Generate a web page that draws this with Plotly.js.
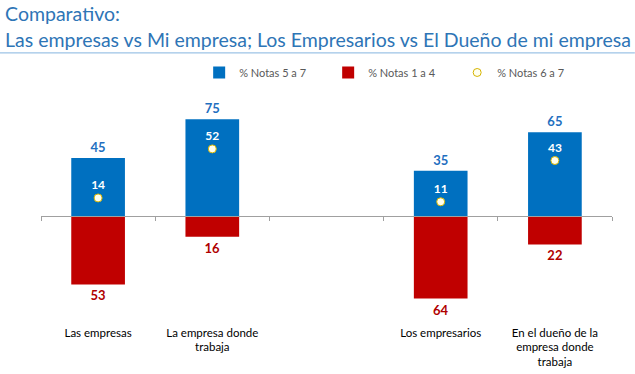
<!DOCTYPE html>
<html><head><meta charset="utf-8">
<script src="https://cdn.plot.ly/plotly-3.0.1.min.js"></script>
<style>html,body{margin:0;padding:0;background:#fff}#chart{width:635px;height:374px}</style>
</head><body><div id="chart"></div>
<script>
const categories = ["Las empresas", "La empresa donde<br>trabaja", " ", "Los empresarios", "En el dueño de la<br>empresa donde<br>trabaja"];
const notas5a7 = [45, 75, null, 35, 65];
const notas1a4 = [53, 16, null, 64, 22];
const notas6a7 = [14, 52, null, 11, 43];
const seriesNames = ["% Notas 5 a 7", "% Notas 1 a 4", "% Notas 6 a 7"];
const titleText = "Comparativo:<br>Las empresas vs Mi empresa; Los Empresarios vs El Dueño de mi empresa";

const yRange = [-80.6, 89.9];
const zeroPos = (0 - yRange[0]) / (yRange[1] - yRange[0]);
const blue = "#0070C0", red = "#C00000";
const FONT = "Lato, 'Open Sans', sans-serif";

const traces = [
  {type: "bar", x: categories, y: notas5a7, name: seriesNames[0],
   marker: {color: blue}, text: notas5a7.map(v => v == null ? "" : String(v)),
   textposition: "outside", cliponaxis: false,
   textfont: {family: FONT, size: 13, color: "#1F6FBF", weight: "bold"},
   hoverinfo: "skip"},
  {type: "bar", x: categories, y: notas1a4.map(v => v == null ? null : -v), name: seriesNames[1],
   marker: {color: red}, text: notas1a4.map(v => v == null ? "" : String(v)),
   textposition: "outside", cliponaxis: false,
   textfont: {family: FONT, size: 13, color: "#B00000", weight: "bold"},
   hoverinfo: "skip"},
  {type: "scatter", mode: "markers+text", x: categories, y: notas6a7, name: seriesNames[2],
   marker: {color: "#FFFFF0", size: 8, line: {color: "#D6B400", width: 1}},
   text: notas6a7.map(v => v == null ? "" : String(v)), textposition: "top center",
   textfont: {family: FONT, size: 12, color: "#FFFFFF", weight: "bold"},
   cliponaxis: false, hoverinfo: "skip"},
  {type: "scatter", mode: "markers", x: categories, y: categories.map(() => null),
   xaxis: "x2", showlegend: false, hoverinfo: "skip"}
];

const layout = {
  width: 635, height: 374,
  margin: {l: 41, r: 23, t: 100, b: 54},
  paper_bgcolor: "#fff", plot_bgcolor: "#fff",
  font: {family: FONT, color: "#000"},
  barmode: "relative", bargap: 0.53,
  title: {text: titleText, x: 0.008, xanchor: "left", xref: "container",
          yref: "container", y: 0.943, yanchor: "middle",
          font: {family: FONT, size: 19.5, color: "#2E75B6"}},
  showlegend: true,
  legend: {orientation: "h", x: 0.277, xanchor: "left", y: 1.191, yanchor: "top",
           font: {family: FONT, size: 11, color: "#595959"},
           entrywidth: 84, entrywidthmode: "pixels", traceorder: "normal"},
  xaxis: {type: "category", categoryorder: "array", categoryarray: categories,
          range: [-0.5, 4.5], showline: false, showgrid: false, zeroline: false,
          ticks: "", ticklabelstandoff: 4,
          tickfont: {family: FONT, size: 11.5, color: "#000"}, fixedrange: true},
  xaxis2: {matches: "x", overlaying: "x", anchor: "free", position: zeroPos, side: "bottom",
           showline: true, linecolor: "#A0A0A0", linewidth: 1,
           ticks: "outside", tickson: "boundaries", ticklen: 4, tickcolor: "#A0A0A0",
           showticklabels: false, showgrid: false, zeroline: false},
  yaxis: {range: yRange, visible: false, showgrid: false, zeroline: false, fixedrange: true},
  shapes: [{type: "line", xref: "paper", yref: "paper", x0: -0.072, x1: 1.04,
            y0: 1.2145, y1: 1.2145, line: {color: "#9DC3E6", width: 1.2}}]
};

Plotly.newPlot("chart", traces, layout, {displayModeBar: false, staticPlot: true});
</script></body></html>
